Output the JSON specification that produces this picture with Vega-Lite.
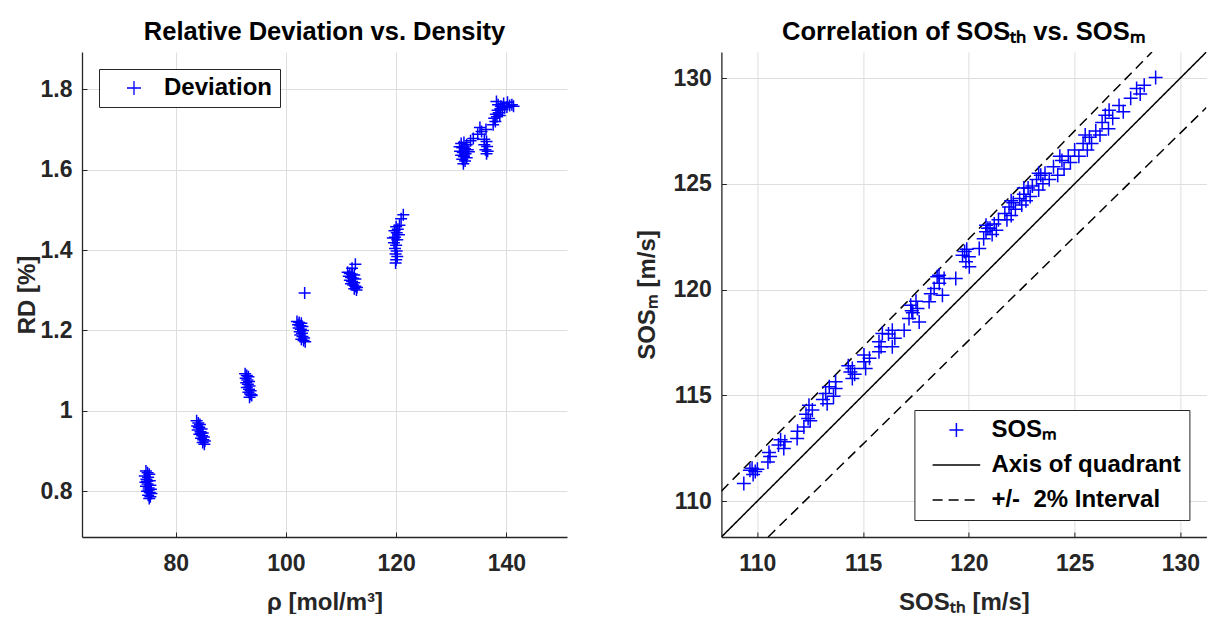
{
  "$schema": "https://vega.github.io/schema/vega-lite/v6.json",
  "background": "white",
  "padding": {"left": 15, "top": 19, "right": 0, "bottom": 0},
  "bounds": "flush",
  "spacing": 154.4,
  "config": {
    "font": "Liberation Sans",
    "view": {"stroke": null},
    "axis": {
      "labelFont": "Liberation Sans", "labelFontSize": 23, "labelFontWeight": "bold", "labelColor": "#262626",
      "titleFont": "Liberation Sans", "titleFontSize": 24, "titleFontWeight": "bold", "titleColor": "#262626",
      "domainColor": "#262626", "domainWidth": 1.3, "tickColor": "#262626", "tickSize": -5, "tickWidth": 1,
      "gridColor": "#dedede", "gridWidth": 1
    },
    "axisX": {"labelPadding": 20, "titlePadding": 15},
    "axisY": {"labelPadding": 15, "titlePadding": 1},
    "title": {"font": "Liberation Sans", "fontSize": 25.5, "fontWeight": "bold", "color": "#000000", "offset": 7},
    "legend": {"labelFont": "Liberation Sans", "labelLimit": 400}
  },
  "resolve": {
    "scale": {"color": "independent", "shape": "independent", "strokeDash": "independent"},
    "legend": {"color": "independent", "shape": "independent", "strokeDash": "independent"}
  },
  "datasets": {
    "dev": [
      {"rho": 74.6, "rd": 0.850}, {"rho": 74.9, "rd": 0.846}, {"rho": 75.2, "rd": 0.842}, {"rho": 74.4, "rd": 0.838},
      {"rho": 75.0, "rd": 0.835}, {"rho": 74.7, "rd": 0.830}, {"rho": 75.3, "rd": 0.826}, {"rho": 74.5, "rd": 0.822},
      {"rho": 74.9, "rd": 0.818}, {"rho": 75.4, "rd": 0.815}, {"rho": 74.6, "rd": 0.812}, {"rho": 75.1, "rd": 0.808},
      {"rho": 75.5, "rd": 0.805}, {"rho": 74.8, "rd": 0.800}, {"rho": 75.3, "rd": 0.797}, {"rho": 75.6, "rd": 0.794},
      {"rho": 75.0, "rd": 0.790}, {"rho": 75.4, "rd": 0.786}, {"rho": 75.2, "rd": 0.782}, {"rho": 74.8, "rd": 0.825},
      {"rho": 75.1, "rd": 0.803},
      {"rho": 83.8, "rd": 0.975}, {"rho": 84.1, "rd": 0.970}, {"rho": 84.4, "rd": 0.966}, {"rho": 83.9, "rd": 0.962},
      {"rho": 84.3, "rd": 0.958}, {"rho": 84.7, "rd": 0.955}, {"rho": 84.0, "rd": 0.952}, {"rho": 84.5, "rd": 0.948},
      {"rho": 84.9, "rd": 0.945}, {"rho": 84.3, "rd": 0.942}, {"rho": 84.8, "rd": 0.938}, {"rho": 85.1, "rd": 0.935},
      {"rho": 84.6, "rd": 0.932}, {"rho": 85.0, "rd": 0.928}, {"rho": 85.3, "rd": 0.925}, {"rho": 84.9, "rd": 0.921},
      {"rho": 85.2, "rd": 0.917}, {"rho": 84.2, "rd": 0.960}, {"rho": 84.6, "rd": 0.944},
      {"rho": 92.6, "rd": 1.092}, {"rho": 92.9, "rd": 1.088}, {"rho": 93.2, "rd": 1.085}, {"rho": 92.7, "rd": 1.081},
      {"rho": 93.0, "rd": 1.077}, {"rho": 93.3, "rd": 1.073}, {"rho": 92.8, "rd": 1.070}, {"rho": 93.1, "rd": 1.066},
      {"rho": 93.4, "rd": 1.062}, {"rho": 92.9, "rd": 1.058}, {"rho": 93.3, "rd": 1.054}, {"rho": 93.6, "rd": 1.050},
      {"rho": 93.2, "rd": 1.046}, {"rho": 93.5, "rd": 1.042}, {"rho": 93.8, "rd": 1.038}, {"rho": 93.4, "rd": 1.034},
      {"rho": 93.7, "rd": 1.040},
      {"rho": 102.0, "rd": 1.222}, {"rho": 102.4, "rd": 1.220}, {"rho": 102.8, "rd": 1.218}, {"rho": 102.2, "rd": 1.214},
      {"rho": 102.6, "rd": 1.212}, {"rho": 103.0, "rd": 1.210}, {"rho": 102.3, "rd": 1.206}, {"rho": 102.7, "rd": 1.203},
      {"rho": 103.1, "rd": 1.200}, {"rho": 102.5, "rd": 1.197}, {"rho": 102.9, "rd": 1.193}, {"rho": 102.6, "rd": 1.189},
      {"rho": 103.0, "rd": 1.185}, {"rho": 103.3, "rd": 1.181}, {"rho": 102.8, "rd": 1.178}, {"rho": 103.2, "rd": 1.175},
      {"rho": 103.5, "rd": 1.172}, {"rho": 103.4, "rd": 1.293},
      {"rho": 112.6, "rd": 1.365}, {"rho": 111.2, "rd": 1.345}, {"rho": 111.6, "rd": 1.342}, {"rho": 112.0, "rd": 1.340},
      {"rho": 112.4, "rd": 1.338}, {"rho": 111.4, "rd": 1.335}, {"rho": 111.8, "rd": 1.332}, {"rho": 112.2, "rd": 1.330},
      {"rho": 112.6, "rd": 1.328}, {"rho": 111.6, "rd": 1.325}, {"rho": 112.0, "rd": 1.322}, {"rho": 112.4, "rd": 1.319},
      {"rho": 111.8, "rd": 1.316}, {"rho": 112.2, "rd": 1.313}, {"rho": 112.6, "rd": 1.310}, {"rho": 112.9, "rd": 1.307},
      {"rho": 112.4, "rd": 1.304}, {"rho": 112.8, "rd": 1.301}, {"rho": 112.0, "rd": 1.355},
      {"rho": 121.3, "rd": 1.488}, {"rho": 120.9, "rd": 1.478}, {"rho": 120.6, "rd": 1.462}, {"rho": 120.0, "rd": 1.458},
      {"rho": 120.3, "rd": 1.452}, {"rho": 119.7, "rd": 1.448}, {"rho": 120.1, "rd": 1.443}, {"rho": 120.5, "rd": 1.438},
      {"rho": 119.8, "rd": 1.432}, {"rho": 120.2, "rd": 1.426}, {"rho": 119.6, "rd": 1.418}, {"rho": 120.0, "rd": 1.412},
      {"rho": 119.8, "rd": 1.404}, {"rho": 120.1, "rd": 1.398}, {"rho": 119.9, "rd": 1.390}, {"rho": 120.2, "rd": 1.384},
      {"rho": 120.0, "rd": 1.376}, {"rho": 119.9, "rd": 1.368}, {"rho": 119.4, "rd": 1.430},
      {"rho": 131.8, "rd": 1.665}, {"rho": 132.3, "rd": 1.668}, {"rho": 132.8, "rd": 1.662}, {"rho": 131.5, "rd": 1.657},
      {"rho": 132.0, "rd": 1.655}, {"rho": 132.5, "rd": 1.652}, {"rho": 133.0, "rd": 1.650}, {"rho": 131.6, "rd": 1.646},
      {"rho": 132.1, "rd": 1.643}, {"rho": 132.6, "rd": 1.640}, {"rho": 133.2, "rd": 1.645}, {"rho": 131.8, "rd": 1.636},
      {"rho": 132.3, "rd": 1.633}, {"rho": 132.8, "rd": 1.630}, {"rho": 132.0, "rd": 1.626}, {"rho": 132.5, "rd": 1.622},
      {"rho": 132.2, "rd": 1.615}, {"rho": 133.5, "rd": 1.672}, {"rho": 134.0, "rd": 1.678},
      {"rho": 134.8, "rd": 1.688}, {"rho": 135.5, "rd": 1.695}, {"rho": 136.3, "rd": 1.700}, {"rho": 135.2, "rd": 1.705},
      {"rho": 136.0, "rd": 1.676}, {"rho": 136.4, "rd": 1.670}, {"rho": 136.0, "rd": 1.662}, {"rho": 136.5, "rd": 1.658},
      {"rho": 136.2, "rd": 1.650}, {"rho": 136.6, "rd": 1.646}, {"rho": 136.4, "rd": 1.640},
      {"rho": 137.6, "rd": 1.712}, {"rho": 138.0, "rd": 1.720}, {"rho": 137.8, "rd": 1.728}, {"rho": 138.3, "rd": 1.732},
      {"rho": 138.1, "rd": 1.738}, {"rho": 138.6, "rd": 1.742}, {"rho": 138.4, "rd": 1.748}, {"rho": 138.9, "rd": 1.752},
      {"rho": 139.3, "rd": 1.750}, {"rho": 139.7, "rd": 1.754}, {"rho": 140.1, "rd": 1.756}, {"rho": 140.6, "rd": 1.760},
      {"rho": 141.0, "rd": 1.762}, {"rho": 139.0, "rd": 1.758}, {"rho": 138.5, "rd": 1.762}, {"rho": 138.2, "rd": 1.770},
      {"rho": 139.5, "rd": 1.765}, {"rho": 140.2, "rd": 1.768}, {"rho": 141.3, "rd": 1.758}, {"rho": 138.8, "rd": 1.735}
    ],
    "sos": [
      {"th": 109.36, "m": 110.83, "s": "SOSₘ"}, {"th": 109.65, "m": 111.45, "s": "SOSₘ"}, {"th": 109.75, "m": 111.55, "s": "SOSₘ"}, {"th": 109.9, "m": 111.4, "s": "SOSₘ"},
      {"th": 110.0, "m": 111.5, "s": "SOSₘ"}, {"th": 109.8, "m": 111.25, "s": "SOSₘ"}, {"th": 110.5, "m": 111.85, "s": "SOSₘ"}, {"th": 110.6, "m": 112.1, "s": "SOSₘ"},
      {"th": 110.55, "m": 112.3, "s": "SOSₘ"}, {"th": 111.0, "m": 112.65, "s": "SOSₘ"}, {"th": 111.25, "m": 112.48, "s": "SOSₘ"}, {"th": 111.3, "m": 112.8, "s": "SOSₘ"},
      {"th": 111.1, "m": 112.9, "s": "SOSₘ"}, {"th": 111.88, "m": 112.96, "s": "SOSₘ"}, {"th": 111.9, "m": 113.3, "s": "SOSₘ"}, {"th": 112.2, "m": 113.5, "s": "SOSₘ"},
      {"th": 112.3, "m": 114.1, "s": "SOSₘ"}, {"th": 112.44, "m": 114.53, "s": "SOSₘ"}, {"th": 112.5, "m": 113.8, "s": "SOSₘ"}, {"th": 112.6, "m": 114.3, "s": "SOSₘ"},
      {"th": 112.4, "m": 113.9, "s": "SOSₘ"}, {"th": 113.1, "m": 114.8, "s": "SOSₘ"}, {"th": 113.23, "m": 115.08, "s": "SOSₘ"}, {"th": 113.3, "m": 114.6, "s": "SOSₘ"},
      {"th": 113.7, "m": 115.32, "s": "SOSₘ"}, {"th": 113.7, "m": 115.64, "s": "SOSₘ"}, {"th": 113.6, "m": 114.95, "s": "SOSₘ"}, {"th": 113.4, "m": 115.4, "s": "SOSₘ"},
      {"th": 114.49, "m": 115.79, "s": "SOSₘ"}, {"th": 114.49, "m": 116.27, "s": "SOSₘ"}, {"th": 114.6, "m": 116.0, "s": "SOSₘ"}, {"th": 114.3, "m": 116.4, "s": "SOSₘ"},
      {"th": 114.4, "m": 116.1, "s": "SOSₘ"}, {"th": 115.04, "m": 116.58, "s": "SOSₘ"}, {"th": 115.04, "m": 116.9, "s": "SOSₘ"}, {"th": 115.12, "m": 116.27, "s": "SOSₘ"},
      {"th": 115.3, "m": 116.75, "s": "SOSₘ"}, {"th": 115.75, "m": 117.06, "s": "SOSₘ"}, {"th": 115.75, "m": 117.53, "s": "SOSₘ"}, {"th": 115.91, "m": 117.92, "s": "SOSₘ"},
      {"th": 115.85, "m": 117.3, "s": "SOSₘ"}, {"th": 116.38, "m": 118.08, "s": "SOSₘ"}, {"th": 116.38, "m": 117.29, "s": "SOSₘ"}, {"th": 116.5, "m": 117.7, "s": "SOSₘ"},
      {"th": 116.2, "m": 117.9, "s": "SOSₘ"}, {"th": 116.94, "m": 118.08, "s": "SOSₘ"}, {"th": 117.17, "m": 118.63, "s": "SOSₘ"}, {"th": 117.25, "m": 119.26, "s": "SOSₘ"},
      {"th": 117.35, "m": 118.9, "s": "SOSₘ"}, {"th": 117.57, "m": 119.1, "s": "SOSₘ"}, {"th": 117.65, "m": 118.47, "s": "SOSₘ"}, {"th": 117.5, "m": 119.45, "s": "SOSₘ"},
      {"th": 117.3, "m": 119.0, "s": "SOSₘ"}, {"th": 118.12, "m": 119.42, "s": "SOSₘ"}, {"th": 118.36, "m": 120.05, "s": "SOSₘ"}, {"th": 118.2, "m": 119.8, "s": "SOSₘ"},
      {"th": 118.59, "m": 120.68, "s": "SOSₘ"}, {"th": 118.83, "m": 120.52, "s": "SOSₘ"}, {"th": 118.75, "m": 119.73, "s": "SOSₘ"}, {"th": 118.6, "m": 120.3, "s": "SOSₘ"},
      {"th": 118.5, "m": 120.6, "s": "SOSₘ"}, {"th": 119.38, "m": 120.52, "s": "SOSₘ"}, {"th": 119.7, "m": 121.62, "s": "SOSₘ"}, {"th": 119.86, "m": 121.31, "s": "SOSₘ"},
      {"th": 120.02, "m": 121.08, "s": "SOSₘ"}, {"th": 119.9, "m": 121.9, "s": "SOSₘ"}, {"th": 120.0, "m": 121.55, "s": "SOSₘ"}, {"th": 119.8, "m": 121.8, "s": "SOSₘ"},
      {"th": 120.49, "m": 121.94, "s": "SOSₘ"}, {"th": 120.81, "m": 122.73, "s": "SOSₘ"}, {"th": 120.81, "m": 123.04, "s": "SOSₘ"}, {"th": 120.7, "m": 122.4, "s": "SOSₘ"},
      {"th": 120.9, "m": 122.9, "s": "SOSₘ"}, {"th": 121.0, "m": 122.9, "s": "SOSₘ"}, {"th": 121.1, "m": 122.6, "s": "SOSₘ"}, {"th": 121.2, "m": 123.1, "s": "SOSₘ"},
      {"th": 121.3, "m": 122.8, "s": "SOSₘ"}, {"th": 121.4, "m": 123.3, "s": "SOSₘ"}, {"th": 121.7, "m": 123.6, "s": "SOSₘ"}, {"th": 121.8, "m": 123.3, "s": "SOSₘ"},
      {"th": 121.9, "m": 123.9, "s": "SOSₘ"}, {"th": 122.0, "m": 123.5, "s": "SOSₘ"}, {"th": 122.1, "m": 124.1, "s": "SOSₘ"}, {"th": 122.2, "m": 123.8, "s": "SOSₘ"},
      {"th": 122.0, "m": 124.2, "s": "SOSₘ"}, {"th": 122.4, "m": 124.3, "s": "SOSₘ"}, {"th": 122.5, "m": 124.0, "s": "SOSₘ"}, {"th": 122.6, "m": 124.5, "s": "SOSₘ"},
      {"th": 122.7, "m": 124.2, "s": "SOSₘ"}, {"th": 122.8, "m": 124.8, "s": "SOSₘ"}, {"th": 122.9, "m": 124.4, "s": "SOSₘ"}, {"th": 123.0, "m": 124.9, "s": "SOSₘ"},
      {"th": 122.6, "m": 124.8, "s": "SOSₘ"}, {"th": 123.2, "m": 125.2, "s": "SOSₘ"}, {"th": 123.3, "m": 124.7, "s": "SOSₘ"}, {"th": 123.4, "m": 125.4, "s": "SOSₘ"},
      {"th": 123.5, "m": 125.0, "s": "SOSₘ"}, {"th": 123.6, "m": 125.5, "s": "SOSₘ"}, {"th": 123.8, "m": 125.2, "s": "SOSₘ"}, {"th": 123.3, "m": 125.5, "s": "SOSₘ"},
      {"th": 124.0, "m": 125.8, "s": "SOSₘ"}, {"th": 124.2, "m": 125.4, "s": "SOSₘ"}, {"th": 124.4, "m": 126.1, "s": "SOSₘ"}, {"th": 124.5, "m": 125.7, "s": "SOSₘ"},
      {"th": 124.7, "m": 126.3, "s": "SOSₘ"}, {"th": 124.8, "m": 126.0, "s": "SOSₘ"}, {"th": 124.3, "m": 126.3, "s": "SOSₘ"}, {"th": 125.0, "m": 126.6, "s": "SOSₘ"},
      {"th": 125.2, "m": 126.3, "s": "SOSₘ"}, {"th": 125.4, "m": 126.9, "s": "SOSₘ"}, {"th": 125.6, "m": 126.6, "s": "SOSₘ"}, {"th": 125.7, "m": 127.2, "s": "SOSₘ"},
      {"th": 125.8, "m": 126.9, "s": "SOSₘ"}, {"th": 125.5, "m": 127.3, "s": "SOSₘ"}, {"th": 126.0, "m": 127.5, "s": "SOSₘ"}, {"th": 126.2, "m": 127.3, "s": "SOSₘ"},
      {"th": 126.45, "m": 128.24, "s": "SOSₘ"}, {"th": 126.63, "m": 128.48, "s": "SOSₘ"}, {"th": 126.6, "m": 127.6, "s": "SOSₘ"}, {"th": 126.8, "m": 128.1, "s": "SOSₘ"},
      {"th": 126.3, "m": 127.9, "s": "SOSₘ"}, {"th": 127.1, "m": 128.7, "s": "SOSₘ"}, {"th": 127.3, "m": 128.4, "s": "SOSₘ"}, {"th": 127.65, "m": 129.04, "s": "SOSₘ"},
      {"th": 127.93, "m": 129.5, "s": "SOSₘ"}, {"th": 128.1, "m": 129.25, "s": "SOSₘ"}, {"th": 128.29, "m": 129.66, "s": "SOSₘ"}, {"th": 128.83, "m": 130.03, "s": "SOSₘ"}
    ],
    "lines": [
      {"th": 108.3, "m": 108.3, "seg": "axis", "s": "Axis of quadrant"},
      {"th": 131.23, "m": 131.23, "seg": "axis", "s": "Axis of quadrant"},
      {"th": 108.3, "m": 110.466, "seg": "upper", "s": "+/-\u00a0 2% Interval"},
      {"th": 128.657, "m": 131.23, "seg": "upper", "s": "+/-\u00a0 2% Interval"},
      {"th": 110.51, "m": 108.3, "seg": "lower", "s": "+/-\u00a0 2% Interval"},
      {"th": 131.23, "m": 128.605, "seg": "lower", "s": "+/-\u00a0 2% Interval"}
    ]
  },
  "hconcat": [
    {
      "width": 485,
      "height": 485,
      "title": {"text": "Relative Deviation vs. Density"},
      "data": {"name": "dev"},
      "mark": {"type": "point", "shape": "M-1,0H1M0,-1V1", "filled": false, "size": 144, "strokeWidth": 1.5, "opacity": 1},
      "encoding": {
        "x": {"field": "rho", "type": "quantitative",
              "scale": {"domain": [63, 151], "nice": false, "zero": false},
              "axis": {"values": [80, 100, 120, 140], "title": "ρ [mol/m³]", "grid": true}},
        "y": {"field": "rd", "type": "quantitative",
              "scale": {"domain": [0.686, 1.893], "nice": false, "zero": false},
              "axis": {"values": [0.8, 1, 1.2, 1.4, 1.6, 1.8], "format": "~g", "title": "RD [%]", "grid": true}},
        "color": {"datum": "Deviation", "type": "nominal", "scale": {"range": ["#0000ff"]},
                  "legend": {"orient": "top-left", "offset": 17, "title": null, "strokeColor": "#262626", "fillColor": "white",
                             "padding": 7, "labelFontSize": 24, "labelFontWeight": "bold", "labelColor": "#000000",
                             "symbolType": "M-1,0H1M0,-1V1", "symbolSize": 196, "symbolStrokeWidth": 1.3,
                             "symbolOffset": 16, "labelOffset": 18}}
      }
    },
    {
      "width": 485,
      "height": 485,
      "title": {"text": "Correlation of SOSₜₕ vs. SOSₘ"},
      "layer": [
        {
          "data": {"name": "lines"},
          "mark": {"type": "line", "strokeWidth": 1.5, "clip": true},
          "encoding": {
            "x": {"field": "th", "type": "quantitative"},
            "y": {"field": "m", "type": "quantitative"},
            "detail": {"field": "seg"},
            "color": {"field": "s", "type": "nominal", "title": null},
            "strokeDash": {"field": "s", "type": "nominal", "title": null,
                           "scale": {"domain": ["SOSₘ", "Axis of quadrant", "+/-\u00a0 2% Interval"], "range": [[1, 0], [1, 0], [10, 6]]},
                           "legend": {"orient": "bottom-right", "title": null}}
          }
        },
        {
          "data": {"name": "sos"},
          "mark": {"type": "point", "filled": false, "size": 196, "strokeWidth": 1.5, "opacity": 1},
          "encoding": {
            "x": {"field": "th", "type": "quantitative",
                  "scale": {"domain": [108.3, 131.23], "nice": false, "zero": false},
                  "axis": {"values": [110, 115, 120, 125, 130], "title": "SOSₜₕ [m/s]", "grid": true}},
            "y": {"field": "m", "type": "quantitative",
                  "scale": {"domain": [108.3, 131.23], "nice": false, "zero": false},
                  "axis": {"values": [110, 115, 120, 125, 130], "title": "SOSₘ [m/s]", "grid": true, "titlePadding": 14}},
            "shape": {"field": "s", "type": "nominal", "title": null,
                      "scale": {"domain": ["SOSₘ", "Axis of quadrant", "+/-\u00a0 2% Interval"], "range": ["M-1,0H1M0,-1V1", "M-3.4,0H3.4", "M-3.4,0H3.4"]},
                      "legend": {"orient": "bottom-right", "title": null}},
            "strokeDash": {"field": "s", "type": "nominal", "title": null},
            "color": {"field": "s", "type": "nominal", "title": null,
                      "scale": {"domain": ["SOSₘ", "Axis of quadrant", "+/-\u00a0 2% Interval"], "range": ["#0000ff", "#000000", "#000000"]},
                      "legend": {"orient": "bottom-right", "offset": 17, "title": null, "strokeColor": "#262626", "fillColor": "white",
                                 "padding": 8, "labelFontSize": 24, "labelFontWeight": "bold", "labelColor": "#000000",
                                 "symbolSize": 196, "symbolStrokeWidth": 1.5, "symbolOffset": 22, "labelOffset": 23, "rowPadding": 11}}
          }
        }
      ]
    }
  ]
}
